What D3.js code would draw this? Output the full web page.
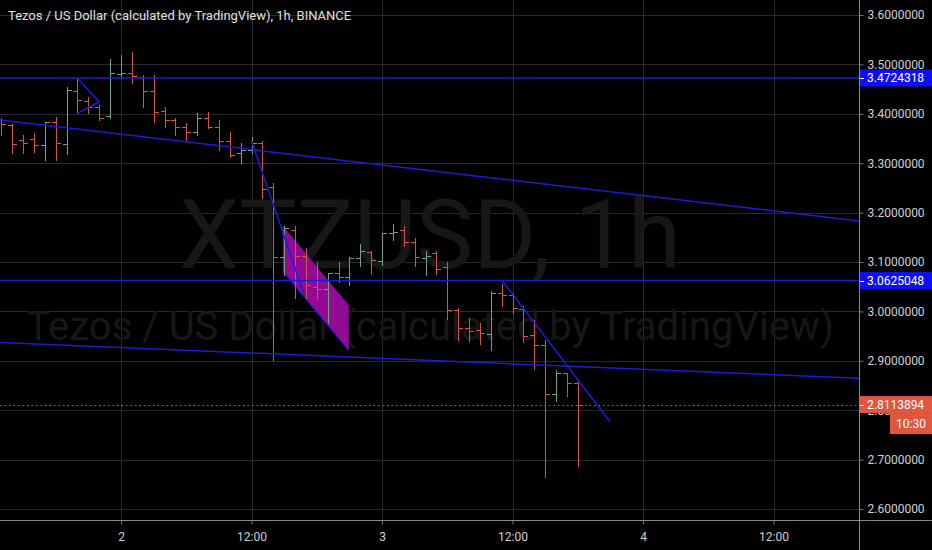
<!DOCTYPE html>
<html><head><meta charset="utf-8">
<script src="https://cdn.jsdelivr.net/npm/d3@7"></script>
<style>html,body{margin:0;padding:0;background:#000;overflow:hidden}</style>
</head><body>
<svg id="c" width="932" height="550"></svg>
<script>
const title = "Tezos / US Dollar (calculated by TradingView), 1h, BINANCE";
const watermark = "XTZUSD, 1h";
const watermarkSub = "Tezos / US Dollar (calculated by TradingView)";
const firstBar = "2019-10-01T13:00:00Z";
const opens  = [3.387,3.377,3.347,3.348,3.337,3.383,3.339,3.447,3.425,3.414,3.396,3.480,3.483,3.475,3.447,3.406,3.387,3.374,3.364,3.391,3.374,3.344,3.320,3.327,3.340,3.252,3.110,3.165,3.112,3.050,3.045,3.078,3.070,3.109,3.121,3.103,3.158,3.165,3.141,3.108,3.119,3.089,3.003,2.966,2.962,2.954,3.037,3.033,3.004,2.952,2.932,2.832,2.875,2.856];
const highs  = [3.391,3.379,3.357,3.361,3.384,3.394,3.454,3.472,3.435,3.418,3.510,3.519,3.526,3.479,3.479,3.414,3.391,3.381,3.401,3.404,3.387,3.364,3.340,3.354,3.344,3.259,3.172,3.172,3.128,3.101,3.078,3.101,3.111,3.136,3.123,3.159,3.177,3.173,3.148,3.123,3.123,3.101,3.006,2.986,2.976,3.042,3.056,3.037,3.010,2.983,2.942,2.881,2.875,2.858];
const lows   = [3.357,3.320,3.321,3.323,3.306,3.306,3.319,3.401,3.401,3.387,3.391,3.472,3.462,3.414,3.384,3.374,3.357,3.344,3.357,3.371,3.327,3.313,3.300,3.320,3.229,2.902,3.074,3.027,3.027,3.027,2.977,3.060,3.053,3.091,3.076,3.094,3.145,3.132,3.091,3.074,3.076,2.984,2.942,2.941,2.935,2.922,3.010,2.997,2.939,2.883,2.665,2.819,2.829,2.688];
const closes = [3.379,3.339,3.341,3.337,3.384,3.341,3.448,3.428,3.414,3.391,3.482,3.483,3.476,3.447,3.404,3.387,3.374,3.364,3.391,3.374,3.344,3.317,3.327,3.340,3.247,3.110,3.168,3.112,3.053,3.045,3.077,3.070,3.109,3.123,3.105,3.158,3.160,3.141,3.110,3.113,3.085,3.003,2.966,2.961,2.956,3.037,3.033,3.006,2.950,2.932,2.832,2.875,2.856,2.8113894];
const priceTicks = [3.6,3.5,3.4,3.3,3.2,3.1,3.0,2.9,2.8,2.7,2.6];
const timeTicks = ["2019-10-02T00:00:00Z","2019-10-02T12:00:00Z","2019-10-03T00:00:00Z","2019-10-03T12:00:00Z","2019-10-04T00:00:00Z","2019-10-04T12:00:00Z"];
const levels = [3.4724318, 3.0625048];
const lastPrice = 2.8113894;
const countdown = "10:30";
// drawings: [hours from Oct 2 00:00, price]
const trendLines = [
  [[-11.126, 3.3874], [67.86, 3.183]],
  [[-11.126, 2.9370], [67.86, 2.8646]],
  [[12.0, 3.345], [16.92, 3.029]],
  [[35.0, 3.0636], [44.97, 2.7767]],
  [[-4.0, 3.4719], [-2.0, 3.4245], [-4.0, 3.401]]
];
const channel = [[14.92, 3.1715], [20.9, 3.013], [20.9, 2.9219], [14.92, 3.0804]];

const W = 932, H = 550, plotR = 859, plotB = 520;
const UP = "#6ba583", DOWN = "#d75442", BLUE = "#1c1cd8";
const base = new Date("2019-10-02T00:00:00Z");
const x = d3.scaleUtc().domain([new Date("2019-10-02T00:00:00Z"), new Date("2019-10-04T00:00:00Z")]).range([121, 643]);
const y = d3.scaleLinear().domain([2.6, 3.6]).range([509, 15]);
const hx = h => x(new Date(base.getTime() + h * 3600e3));

const svg = d3.select("#c");
svg.append("rect").attr("width", W).attr("height", H).attr("fill", "#000");
svg.append("defs").append("clipPath").attr("id", "clip")
  .append("rect").attr("x", 0).attr("y", 0).attr("width", plotR).attr("height", plotB);

const plot = svg.append("g").attr("clip-path", "url(#clip)");
// grid
plot.selectAll(".hg").data(priceTicks).join("line")
  .attr("x1", 0).attr("x2", plotR)
  .attr("y1", d => Math.round(y(d)) + 0.5).attr("y2", d => Math.round(y(d)) + 0.5)
  .attr("stroke", "#2a2a2a");
plot.selectAll(".vg").data(timeTicks.map(t => new Date(t))).join("line")
  .attr("y1", 0).attr("y2", plotB)
  .attr("x1", d => Math.round(x(d)) + 0.5).attr("x2", d => Math.round(x(d)) + 0.5)
  .attr("stroke", "#2a2a2a");

// watermark
plot.append("text").attr("x", 430).attr("y", 268).attr("text-anchor", "middle")
  .attr("font-family", "Roboto, sans-serif").attr("font-size", 96).attr("fill", "#171717").text(watermark);
plot.append("text").attr("x", 430).attr("y", 340).attr("text-anchor", "middle")
  .attr("font-family", "Roboto, sans-serif").attr("font-size", 40).attr("fill", "#171717").text(watermarkSub);

// channel polygon
plot.append("polygon")
  .attr("points", channel.map(p => [hx(p[0]), y(p[1])].join(",")).join(" "))
  .attr("fill", "#930a93").attr("stroke", "#7a0a9a").attr("stroke-width", 1);
plot.append("line")
  .attr("x1", hx(channel[2][0])).attr("y1", y(channel[2][1]))
  .attr("x2", hx(channel[3][0])).attr("y2", y(channel[3][1]))
  .attr("stroke", BLUE).attr("stroke-width", 1.2);

// bars
const times = d3.range(opens.length).map(i => d3.utcHour.offset(new Date(firstBar), i));
const bars = times.map((t, i) => ({t, o: opens[i], h: highs[i], l: lows[i], c: closes[i]}));
const bg = plot.append("g");
bars.forEach(b => {
  const cx = Math.round(x(b.t)) + 0.5;
  const col = b.c >= b.o ? UP : DOWN;
  const g = bg.append("g").attr("stroke", col).attr("stroke-width", 1);
  g.append("line").attr("x1", cx).attr("x2", cx).attr("y1", Math.round(y(b.h))).attr("y2", Math.round(y(b.l)) + 1);
  g.append("line").attr("x1", cx - 4.5).attr("x2", cx).attr("y1", Math.round(y(b.o)) + 0.5).attr("y2", Math.round(y(b.o)) + 0.5);
  g.append("line").attr("x1", cx).attr("x2", cx + 4.5).attr("y1", Math.round(y(b.c)) + 0.5).attr("y2", Math.round(y(b.c)) + 0.5);
});

// horizontal levels
plot.selectAll(".lvl").data(levels).join("line")
  .attr("x1", 0).attr("x2", plotR).attr("y1", d => y(d)).attr("y2", d => y(d))
  .attr("stroke", BLUE).attr("stroke-width", 1.5);
// trend lines
const line = d3.line().x(p => hx(p[0])).y(p => y(p[1]));
plot.selectAll(".tl").data(trendLines).join("path")
  .attr("d", line).attr("fill", "none").attr("stroke", BLUE).attr("stroke-width", 1.5);
// last price dotted
plot.append("line").attr("x1", 0).attr("x2", plotR)
  .attr("y1", Math.round(y(lastPrice)) + 0.5).attr("y2", Math.round(y(lastPrice)) + 0.5)
  .attr("stroke", DOWN).attr("stroke-dasharray", "1.5,3").attr("stroke-width", 1.2);

// axes
const yAxis = d3.axisRight(y).tickValues(priceTicks).tickFormat(d3.format(".7f")).tickSize(4).tickPadding(4);
const ya = svg.append("g").attr("transform", `translate(${plotR + 0.5},0)`).call(yAxis);
ya.select(".domain").remove();
ya.selectAll("line").attr("stroke", "#777");
ya.selectAll("text").attr("fill", "#d0d0d0").attr("font-family", "Roboto, sans-serif").attr("font-size", 12);

const xAxis = d3.axisBottom(x).tickValues(timeTicks.map(t => new Date(t)))
  .tickFormat(d => d.getUTCHours() === 0 ? String(d.getUTCDate()) : d3.utcFormat("%H:%M")(d))
  .tickSize(4).tickPadding(8);
const xa = svg.append("g").attr("transform", `translate(0,${plotB + 0.5})`).call(xAxis);
xa.select(".domain").remove();
xa.selectAll("line").attr("stroke", "#777");
xa.selectAll("text").attr("fill", "#d0d0d0").attr("font-family", "Roboto, sans-serif").attr("font-size", 12);

svg.append("line").attr("x1", plotR + 0.5).attr("x2", plotR + 0.5).attr("y1", 0).attr("y2", H).attr("stroke", "#8a8a8a");
svg.append("line").attr("x1", 0).attr("x2", W).attr("y1", plotB + 0.5).attr("y2", plotB + 0.5).attr("stroke", "#8a8a8a");

// price labels
function priceLabel(v, fill) {
  const yc = y(v);
  svg.append("rect").attr("x", plotR + 1).attr("y", yc - 8.5).attr("width", W - plotR - 1).attr("height", 17).attr("fill", fill);
  svg.append("line").attr("x1", plotR + 1).attr("x2", plotR + 5).attr("y1", Math.round(yc) + 0.5).attr("y2", Math.round(yc) + 0.5).attr("stroke", "#fff");
  svg.append("text").attr("x", plotR + 8).attr("y", yc).attr("dy", "0.35em")
    .attr("fill", "#fff").attr("font-family", "Roboto, sans-serif").attr("font-size", 12).text(d3.format(".7f")(v));
}
levels.forEach(v => priceLabel(v, "#0f0ff5"));
priceLabel(lastPrice, "#e0563f");
const cy = y(lastPrice) + 8.5;
svg.append("rect").attr("x", 890).attr("y", cy).attr("width", W - 890).attr("height", 21).attr("fill", "#e0563f");
svg.append("text").attr("x", 911).attr("y", cy + 10.5).attr("dy", "0.35em").attr("text-anchor", "middle")
  .attr("fill", "#fff").attr("font-family", "Roboto, sans-serif").attr("font-size", 12).text(countdown);

// title
svg.append("text").attr("x", 8).attr("y", 20).attr("fill", "#e0e0e0")
  .attr("font-family", "Roboto, sans-serif").attr("font-size", 13).text(title);
</script>
</body></html>
